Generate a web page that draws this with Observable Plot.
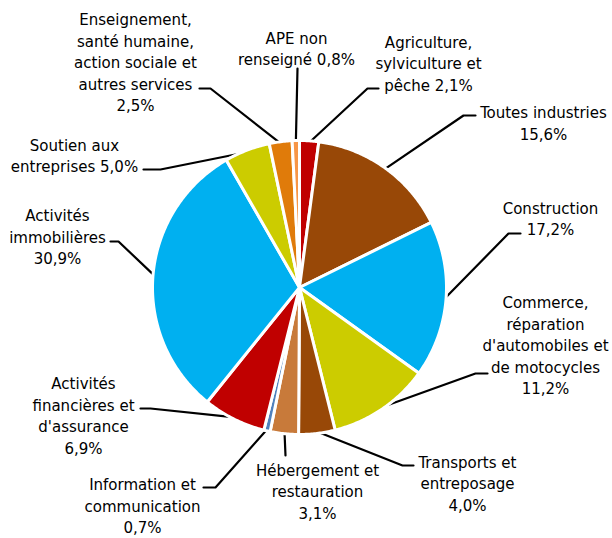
<!DOCTYPE html>
<html><head><meta charset="utf-8">
<script src="https://cdn.jsdelivr.net/npm/d3@7"></script>
<script src="https://cdn.jsdelivr.net/npm/@observablehq/plot@0.6"></script>
<style>body{margin:0;background:#fff}</style>
</head><body><div id="chart"></div>
<script>
// ---- data ----
const categories = [
  "Agriculture,\nsylviculture et\npêche",
  "Toutes industries",
  "Construction",
  "Commerce,\nréparation\nd'automobiles et\nde motocycles",
  "Transports et\nentreposage",
  "Hébergement et\nrestauration",
  "Information et\ncommunication",
  "Activités\nfinancières et\nd'assurance",
  "Activités\nimmobilières",
  "Soutien aux\nentreprises",
  "Enseignement,\nsanté humaine,\naction sociale et\nautres services",
  "APE non\nrenseigné"
];
const values = [2.1, 15.6, 17.2, 11.2, 4.0, 3.1, 0.7, 6.9, 30.9, 5.0, 2.5, 0.8];
const colors = ["#C00000", "#984807", "#00B0F0", "#CCCC00", "#984807", "#C87A3A",
                "#4F81BD", "#C00000", "#00B0F0", "#CCCC00", "#E07B0A", "#F79646"];

// ---- layout (pixel units) ----
const W = 612, H = 538, CX = 299, CY = 287, R = 147;
const joiners = [" ", "\n", "\n", "\n", "\n", "\n", "\n", "\n", "\n", " ", "\n", " "];
const labelPos = [[428, 62], [543, 121.5], [550, 217], [545, 344], [467, 482], [317, 490],
                  [142, 504.5], [83, 414], [57, 235.5], [74, 154], [135, 61], [296, 47]];
const leaderElbow = [[367, 88], [463, 115], [508, 233], [475, 373], [402, 465], [285, 455],
                     [215, 487], [150, 408], [118, 241], [160, 169], [210, 88], [297, 68]];
const leaderEnd = [[378, 88], [475, 115], [520, 233], [487, 373], [413, 465], [285, 455],
                   [203, 487], [140, 408], [110, 241], [143, 169], [199, 88], [297, 68]];

const fmt = v => v.toFixed(1).replace(".", ",") + "%";
const arcs = d3.pie().sort(null).value(d => d)(values);

const slicePts = [];
arcs.forEach((a, i) => {
  const n = Math.max(2, Math.ceil((a.endAngle - a.startAngle) / 0.01));
  slicePts.push({key: i, x: CX, y: CY, color: colors[i]});
  for (let k = 0; k <= n; k++) {
    const t = a.startAngle + (a.endAngle - a.startAngle) * k / n;
    slicePts.push({key: i, x: CX + R * Math.sin(t), y: CY - R * Math.cos(t), color: colors[i]});
  }
  slicePts.push({key: i, x: CX, y: CY, color: colors[i]});
});

const leaderPts = [];
arcs.forEach((a, i) => {
  const m = (a.startAngle + a.endAngle) / 2;
  leaderPts.push({key: i, x: CX + (R - 2) * Math.sin(m), y: CY - (R - 2) * Math.cos(m)});
  leaderPts.push({key: i, x: leaderElbow[i][0], y: leaderElbow[i][1]});
  leaderPts.push({key: i, x: leaderEnd[i][0], y: leaderEnd[i][1]});
});

const labels = categories.map((c, i) => ({
  text: c + joiners[i] + fmt(values[i]), x: labelPos[i][0], y: labelPos[i][1]
}));

const chart = Plot.plot({
  width: W, height: H,
  margin: 0,
  style: {background: "#fff"},
  x: {domain: [0, W], range: [0, W], axis: null},
  y: {domain: [0, H], range: [0, H], axis: null},
  color: {type: "identity"},
  marks: [
    Plot.line(leaderPts, {x: "x", y: "y", z: "key", stroke: "#000", strokeWidth: 2.2, curve: "linear"}),
    Plot.line(slicePts, {x: "x", y: "y", z: "key", fill: "color", stroke: "#fff", strokeWidth: 3,
      strokeLinejoin: "round", curve: "linear"}),
    Plot.text(labels, {x: "x", y: "y", text: "text", fontSize: 16.7, lineHeight: 1.29,
      fill: "#000", textAnchor: "middle", fontFamily: "DejaVu Sans Condensed"})
  ]
});
document.getElementById("chart").appendChild(chart);
</script>
</body></html>
